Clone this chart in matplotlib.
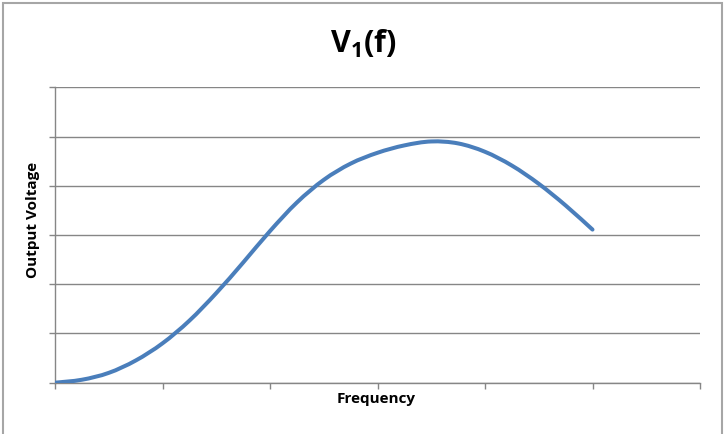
import matplotlib
matplotlib.use("Agg")
import matplotlib.pyplot as plt
from matplotlib.patches import Rectangle, PathPatch
from matplotlib.path import Path

# Data
frequency = [0.0, 0.25, 0.5, 0.75, 1.0, 1.25, 1.5, 1.75, 2.0, 2.25, 2.5,
             2.75, 3.0, 3.25, 3.5, 3.75, 4.0, 4.25, 4.5, 4.75, 5.0]
voltage = [0.0, 0.06, 0.20, 0.45, 0.80, 1.26, 1.82, 2.44, 3.08, 3.66, 4.12,
           4.45, 4.67, 4.82, 4.90, 4.86, 4.69, 4.41, 4.04, 3.60, 3.11]
x_ticks = [0, 1, 2, 3, 4, 5, 6]
y_ticks = [0, 1, 2, 3, 4, 5, 6]

plt.rcParams['font.family'] = ['Open Sans', 'DejaVu Sans']
plt.rcParams['mathtext.fontset'] = 'custom'
plt.rcParams['mathtext.rm'] = 'Open Sans:bold'
plt.rcParams['mathtext.it'] = 'Open Sans:bold'
plt.rcParams['mathtext.bf'] = 'Open Sans:bold'

fig = plt.figure(figsize=(7.26, 4.34), dpi=100)
fig.patch.set_facecolor('white')

# outer chart border
fig.add_artist(Rectangle((3 / 726, -0.05), 719 / 726, 1.05 - 3 / 434,
                         transform=fig.transFigure, fill=False,
                         edgecolor='#a6a6a6', linewidth=1.5))

ax = fig.add_axes([55 / 726, 51.3 / 434, 645 / 726, 295.4 / 434])

# smoothed line through the data points (Catmull-Rom as Bezier, like Excel)
verts = [(frequency[0], voltage[0])]
codes = [Path.MOVETO]
n = len(frequency)
for i in range(n - 1):
    p0 = (frequency[max(i - 1, 0)], voltage[max(i - 1, 0)])
    p1 = (frequency[i], voltage[i])
    p2 = (frequency[i + 1], voltage[i + 1])
    p3 = (frequency[min(i + 2, n - 1)], voltage[min(i + 2, n - 1)])
    c1 = (p1[0] + (p2[0] - p0[0]) / 6, p1[1] + (p2[1] - p0[1]) / 6)
    c2 = (p2[0] - (p3[0] - p1[0]) / 6, p2[1] - (p3[1] - p1[1]) / 6)
    verts += [c1, c2, p2]
    codes += [Path.CURVE4, Path.CURVE4, Path.CURVE4]
patch = PathPatch(Path(verts, codes), facecolor='none', edgecolor='#4A7EBB',
                  linewidth=2.9, capstyle='round', joinstyle='round',
                  zorder=3, transform=ax.transData)
ax.add_patch(patch)

ax.set_xlim(0, 6)
ax.set_ylim(0, 6)
ax.set_xticks(x_ticks)
ax.set_yticks(y_ticks)
ax.set_xticklabels([])
ax.set_yticklabels([])
ax.grid(axis='y', color='#868686', linewidth=1.0)
ax.tick_params(axis='both', direction='out', length=4.5, width=1.0,
               color='#868686')
for s in ['top', 'right']:
    ax.spines[s].set_visible(False)
for s in ['left', 'bottom']:
    ax.spines[s].set_color('#868686')
    ax.spines[s].set_linewidth(1.0)
ax.set_axisbelow(True)

fig.text(363 / 726, 1 - 44 / 434, r'$\mathrm{V_1(f)}$', ha='center',
         va='center', fontsize=22, fontweight='bold')
fig.text(376 / 726, 1 - 399 / 434, 'Frequency', ha='center', va='center',
         fontsize=11, fontweight='bold')
fig.text(33 / 726, 1 - 220 / 434, 'Output Voltage', ha='center',
         va='center', rotation=90, fontsize=11, fontweight='bold')

fig.savefig('out.png', dpi=100)
